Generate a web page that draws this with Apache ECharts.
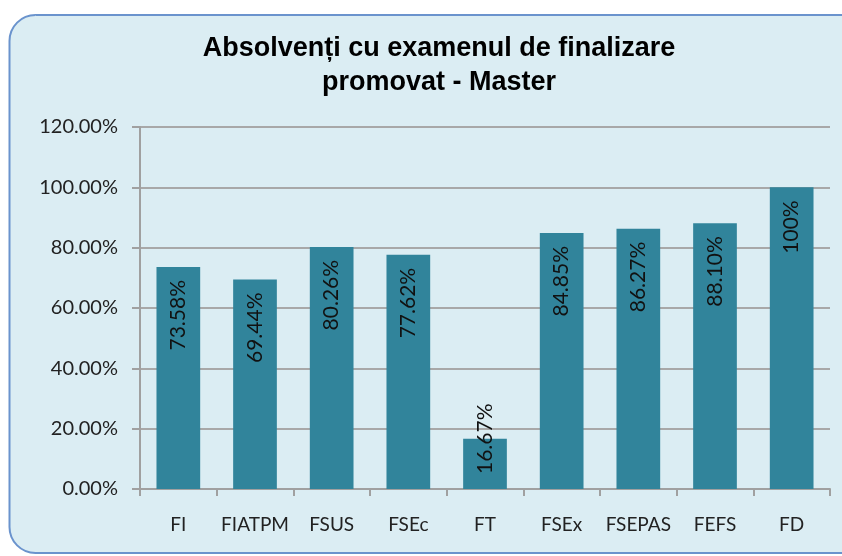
<!DOCTYPE html>
<html>
<head>
<meta charset="utf-8">
<script src="https://cdn.jsdelivr.net/npm/echarts@6/dist/echarts.min.js"></script>
<style>
  html, body { margin: 0; padding: 0; background: #fff; }
  #chart { width: 842px; height: 556px; }
</style>
</head>
<body>
<div id="chart"></div>
<script>
var categories = ['FI', 'FIATPM', 'FSUS', 'FSEc', 'FT', 'FSEx', 'FSEPAS', 'FEFS', 'FD'];
var values = [73.58, 69.44, 80.26, 77.62, 16.67, 84.85, 86.27, 88.10, 100];
var labels = ['73.58%', '69.44%', '80.26%', '77.62%', '16.67%', '84.85%', '86.27%', '88.10%', '100%'];

var myChart = echarts.init(document.getElementById('chart'));

// short bars get their label from the bottom, like Excel does
var barData = values.map(function (v, i) {
    var item = { value: v };
    if (v < 30) {
        item.label = { position: 'insideBottom', align: 'left', distance: 15 };
    }
    return item;
});

var option = {
    backgroundColor: '#fff',
    graphic: [
        {
            type: 'rect',
            z: -10,
            shape: { x: 9.5, y: 15, width: 860, height: 538, r: 26 },
            style: { fill: '#DBEDF3', stroke: '#6A93CD', lineWidth: 2 }
        }
    ],
    title: {
        text: 'Absolvenți cu examenul de finalizare\npromovat - Master',
        left: 434,
        top: 27,
        textAlign: 'center',
        textStyle: {
            fontFamily: 'Liberation Sans',
            fontSize: 27,
            fontWeight: 'bold',
            color: '#000',
            lineHeight: 34
        }
    },
    grid: {
        left: 140,
        right: 12,
        top: 127,
        bottom: 67
    },
    xAxis: {
        type: 'category',
        data: categories,
        axisLine: { lineStyle: { color: '#A0A0A0', width: 2 } },
        axisTick: { show: true, length: 7, lineStyle: { color: '#A0A0A0', width: 2 } },
        axisLabel: {
            interval: 0,
            fontFamily: 'Lato',
            fontSize: 19,
            color: '#222',
            margin: 26
        }
    },
    yAxis: {
        type: 'value',
        min: 0,
        max: 120,
        interval: 20,
        axisLine: { show: true, lineStyle: { color: '#A0A0A0', width: 2 } },
        axisTick: { show: true, length: 8, lineStyle: { color: '#A0A0A0', width: 2 } },
        splitLine: { lineStyle: { color: '#A8A8A8', width: 2 } },
        axisLabel: {
            fontFamily: 'Lato',
            fontSize: 20,
            color: '#222',
            margin: 22,
            formatter: function (v) { return v.toFixed(2) + '%'; }
        }
    },
    series: [
        {
            type: 'bar',
            data: barData,
            barCategoryGap: '43%',
            itemStyle: { color: '#31849B' },
            label: {
                show: true,
                position: 'insideTop',
                distance: 13,
                rotate: 90,
                align: 'right',
                verticalAlign: 'middle',
                fontFamily: 'Lato',
                fontSize: 21,
                color: '#111',
                formatter: function (p) { return labels[p.dataIndex]; }
            }
        }
    ]
};
myChart.setOption(option);
</script>
</body>
</html>
